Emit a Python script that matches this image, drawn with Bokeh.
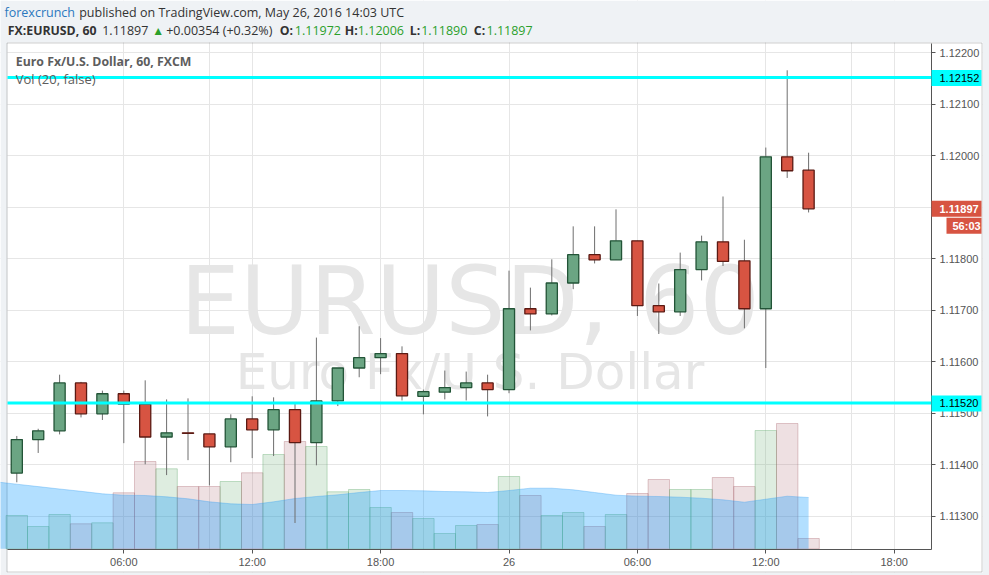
from bokeh.plotting import figure
from bokeh.models import (Range1d, FixedTicker, Label, BoxAnnotation, LinearAxis,
                          Grid, ColumnDataSource)
from bokeh.embed import file_html
from bokeh.resources import INLINE
from bokeh.core.properties import value

# ---------------- data (EURUSD 60 min, from 2016-05-25 00:00 UTC, x = hour) ----
hours = list(range(1, 39))
opens = [1.11384, 1.11449, 1.11466, 1.11559, 1.11499, 1.11538, 1.11518, 1.11454,
         1.11462, 1.11460, 1.11435, 1.11489, 1.11468, 1.11507, 1.11443, 1.11524,
         1.11588, 1.11608, 1.11616, 1.11533, 1.11541, 1.11550, 1.11559, 1.11546,
         1.11703, 1.11693, 1.11753, 1.11808, 1.11798, 1.11835, 1.11709, 1.11697,
         1.11779, 1.11833, 1.11796, 1.11703, 1.11998, 1.11972]
highs = [1.11456, 1.11470, 1.11575, 1.11561, 1.11544, 1.11544, 1.11564, 1.11527,
         1.11529, 1.11460, 1.11498, 1.11533, 1.11531, 1.11518, 1.11647, 1.11588,
         1.11669, 1.11646, 1.11630, 1.11546, 1.11583, 1.11581, 1.11575, 1.11777,
         1.11744, 1.11799, 1.11863, 1.11863, 1.11896, 1.11835, 1.11752, 1.11812,
         1.11845, 1.11921, 1.11837, 1.12016, 1.12166, 1.12006]
lows = [1.11366, 1.11423, 1.11459, 1.11492, 1.11487, 1.11442, 1.11401, 1.11380,
        1.11409, 1.11360, 1.11405, 1.11413, 1.11417, 1.11287, 1.11399, 1.11514,
        1.11570, 1.11576, 1.11525, 1.11498, 1.11527, 1.11525, 1.11494, 1.11539,
        1.11661, 1.11690, 1.11741, 1.11791, 1.11798, 1.11689, 1.11654, 1.11689,
        1.11758, 1.11786, 1.11665, 1.11588, 1.11957, 1.11890]
closes = [1.11449, 1.11466, 1.11559, 1.11499, 1.11538, 1.11518, 1.11454, 1.11462,
          1.11461, 1.11435, 1.11489, 1.11468, 1.11507, 1.11443, 1.11524, 1.11588,
          1.11608, 1.11616, 1.11534, 1.11542, 1.11550, 1.11559, 1.11546, 1.11703,
          1.11693, 1.11753, 1.11808, 1.11798, 1.11835, 1.11709, 1.11697, 1.11779,
          1.11833, 1.11795, 1.11703, 1.11998, 1.11971, 1.11897]
volume = [333, 223, 343, 250, 260, 560, 873, 800, 623, 623, 673, 760, 943, 1073,
          1023, 570, 593, 413, 363, 303, 153, 233, 243, 723, 533, 333, 363, 223,
          343, 553, 693, 593, 593, 713, 623, 1183, 1253, 103]
ma_hours = list(range(0, 39))
vol_ma = [670, 646, 622, 598, 575, 550, 536, 533, 520, 500, 470, 450, 443, 470,
          503, 523, 540, 563, 583, 583, 580, 573, 570, 563, 583, 606, 606, 590,
          563, 536, 526, 523, 516, 506, 490, 466, 496, 526, 513]
levels = [1.12152, 1.11520]
level_labels = ["1.12152", "1.11520"]
last_price = 1.11897
last_label = "1.11897"
countdown = "56:03"
price_ticks = [1.113, 1.114, 1.115, 1.116, 1.117, 1.118, 1.119, 1.120, 1.121, 1.122]
price_tick_labels = ["1.11300", "1.11400", "1.11500", "1.11600", "1.11700",
                     "1.11800", "1.11900", "1.12000", "1.12100", "1.12200"]
time_ticks = [6, 12, 18, 24, 30, 36, 42]
time_tick_labels = ["06:00", "12:00", "18:00", "26", "06:00", "12:00", "18:00"]

header1 = [("forexcrunch", "#2b78be"),
           ("published on TradingView.com, May 26, 2016 14:03 UTC", "#333333")]
header2 = [("FX:EURUSD, 60", "bold", "#333333"), ("1.11897", "normal", "#333333"),
           ("\u25b2", "normal", "#2ba02b"), ("+0.00354 (+0.32%)", "normal", "#333333"),
           ("O:", "bold", "#333333"), ("1.11972", "normal", "#2ba02b"),
           ("H:", "bold", "#333333"), ("1.12006", "normal", "#2ba02b"),
           ("L:", "bold", "#333333"), ("1.11890", "normal", "#2ba02b"),
           ("C:", "bold", "#333333"), ("1.11897", "normal", "#2ba02b")]
symbol_title = "Euro Fx/U.S. Dollar, 60, FXCM"
vol_title = "Vol (20, false)"
watermark1 = "EURUSD, 60"
watermark2 = "Euro Fx/U.S. Dollar"

# ---------------- layout (pixel geometry of the canvas) ----------------
W, H = 989, 575
PX_PER_HOUR = 21.4
PX_PER_PRICE = 51500.0
X0 = 6 - 123.3 / PX_PER_HOUR           # hour at canvas x = 0
YT = 1.122 + 52.3 / PX_PER_PRICE       # price at canvas y = 0
VOL_PER_PX = 10.0
VOL_BASE_Y = 548.3


def fx(px):
    return X0 + px / PX_PER_HOUR


def fy(py):
    return YT - py / PX_PER_PRICE


BOX_L, BOX_T, BOX_R, BOX_B = 7, 42, 982, 572      # outer chart box
PL, PT, PR, PB = 7, 43, 931, 549                  # price pane
BG = "#eff2f5"

p = figure(width=W, height=H, x_range=Range1d(fx(0), fx(W)),
           y_range=Range1d(fy(H), fy(0)), x_axis_location=None,
           y_axis_location=None, toolbar_location=None, output_backend="svg",
           min_border=0, title=None, background_fill_color="white",
           border_fill_color=BG, outline_line_color=None)
p.extra_y_ranges = {"vol": Range1d((VOL_BASE_Y - H) * VOL_PER_PX,
                                   VOL_BASE_Y * VOL_PER_PX)}

xt = FixedTicker(ticks=time_ticks)
yt = FixedTicker(ticks=price_ticks)
p.add_layout(Grid(dimension=0, ticker=xt, grid_line_color="#e6e6e6"))
p.add_layout(Grid(dimension=1, ticker=yt, grid_line_color="#e6e6e6"))

# cover everything outside the price pane
covers = [
    (0, W, 0, BOX_T, BG), (0, BOX_L, 0, H, BG), (BOX_R, W, 0, H, BG),
    (0, W, BOX_B, H, BG), (PR, BOX_R, BOX_T, BOX_B, "white"),
    (BOX_L, PR, PB, BOX_B, "white"),
]
for l, r, t, b, c in covers:
    p.add_layout(BoxAnnotation(left=fx(l), right=fx(r), top=fy(t), bottom=fy(b),
                               fill_color=c, fill_alpha=1, line_color=None,
                               level="underlay"))
p.add_layout(BoxAnnotation(left=fx(BOX_L - 0.5), right=fx(BOX_R - 0.5),
                           top=fy(BOX_T + 0.5), bottom=fy(BOX_B - 0.5),
                           fill_alpha=0, line_color="#5d5d5d", line_width=1,
                           level="underlay"))

# axes at fixed positions
yax = LinearAxis(ticker=yt, fixed_location=fx(PR), bounds=(fy(PB), fy(PT)),
                 major_label_overrides=dict(zip(price_ticks, price_tick_labels)))
xax = LinearAxis(ticker=xt, fixed_location=fy(PB), bounds=(fx(PL), fx(PR)),
                 major_label_overrides=dict(zip(time_ticks, time_tick_labels)))
for ax in (xax, yax):
    ax.axis_line_color = "#555555"
    ax.major_tick_line_color = "#555555"
    ax.minor_tick_line_color = None
    ax.major_tick_in = 0
    ax.major_tick_out = 4
    ax.major_label_text_font = "Liberation Sans"
    ax.major_label_text_font_size = "11px"
    ax.major_label_text_color = "#555555"
xax.major_label_standoff = 2
yax.major_label_standoff = 4
p.add_layout(yax, "right")
p.add_layout(xax, "below")

# watermark
xc = fx((PL + PR) / 2 + 0.5)
p.text(x=[xc], y=[fy(300)], text=[watermark1], text_font=value("DejaVu Sans"),
       text_font_size="95px", text_color="#e6e6e6", text_align="center",
       text_baseline="alphabetic")
p.text(x=[xc], y=[fy(371.7)], text=[watermark2], text_font=value("DejaVu Sans"),
       text_font_size="50px", text_color="#e6e6e6", text_align="center",
       text_baseline="alphabetic")

inc = [c >= o for o, c in zip(opens, closes)]
src = ColumnDataSource(dict(
    x=hours, o=opens, h=highs, l=lows, c=closes,
    top=[max(o, c) for o, c in zip(opens, closes)],
    bottom=[min(o, c) for o, c in zip(opens, closes)],
    bf=["#6ba583" if u else "#d75442" for u in inc],
    bl=["#225437" if u else "#5b1a13" for u in inc],
    vf=["#5aa564" if u else "#aa646e" for u in inc],
    vol=volume))

# volume
p.vbar(x="x", top="vol", bottom=0, width=1.0, fill_color="vf", fill_alpha=0.2,
       line_color="vf", line_alpha=0.35, line_width=1, y_range_name="vol",
       source=src)
p.varea(x=ma_hours, y1=[0] * len(vol_ma), y2=vol_ma, fill_color="#0096ff",
        fill_alpha=0.3, y_range_name="vol")
p.line(x=ma_hours, y=vol_ma, line_color="#3aa0f0", line_alpha=0.35, line_width=1,
       y_range_name="vol")

# candles
p.segment(x0="x", y0="h", x1="x", y1="l", line_color="#6e6e6e", line_width=1,
          source=src)
p.vbar(x="x", top="top", bottom="bottom", width=0.52, fill_color="bf",
       line_color="bl", line_width=1.3, source=src)

# horizontal levels across the price pane
p.segment(x0=[fx(PL)] * len(levels), x1=[fx(PR)] * len(levels), y0=levels,
          y1=levels, line_color="#00ffff", line_width=3)

# titles inside chart
p.add_layout(Label(x=fx(15.3), y=fy(61), text=symbol_title, text_font="Open Sans",
                   text_font_size="12.3px", text_font_style="bold",
                   text_color="#5d5d5d", text_baseline="middle"))
p.add_layout(Label(x=fx(15.3), y=fy(78), text=vol_title, text_font="Open Sans",
                   text_font_size="13px", text_color="#5d5d5d",
                   text_baseline="middle"))

# header
h1x = [4, 78.7]
for (t, col), x in zip(header1, h1x):
    p.add_layout(Label(x=fx(x), y=fy(12), text=t, text_font="Open Sans",
                       text_font_size="12.5px", text_color=col,
                       text_baseline="middle"))
h2x = [7.3, 101.7, 151.7, 165.7, 279.3, 294.3, 344.3, 357.3, 409.3, 420.7, 473.3, 486]
for (t, st, col), x in zip(header2, h2x):
    size = "12px" if t == "\u25b2" else ("12.3px" if st == "bold" else "12.5px")
    p.add_layout(Label(x=fx(x), y=fy(30), text=t, text_font="Open Sans",
                       text_font_size=size, text_font_style=st, text_color=col,
                       text_baseline="middle"))

# price-axis markers
for lv, lt in zip(levels, level_labels):
    yc = (YT - lv) * PX_PER_PRICE
    p.add_layout(BoxAnnotation(left=fx(PR), right=fx(BOX_R - 1), top=fy(yc - 7.5),
                               bottom=fy(yc + 8.5), fill_color="#00ffff",
                               fill_alpha=1, line_color=None))
    p.add_layout(Label(x=fx(939), y=lv, text=lt, text_font="Liberation Sans",
                       text_font_size="11px", text_color="#000000",
                       text_baseline="middle"))
yc = (YT - last_price) * PX_PER_PRICE
p.add_layout(BoxAnnotation(left=fx(PR), right=fx(BOX_R - 1), top=fy(yc - 8),
                           bottom=fy(yc + 8), fill_color="#d75442", fill_alpha=1,
                           line_color=None))
p.add_layout(BoxAnnotation(left=fx(946), right=fx(BOX_R - 1), top=fy(yc + 9),
                           bottom=fy(yc + 25), fill_color="#d75442", fill_alpha=1,
                           line_color=None))
p.add_layout(Label(x=fx(939), y=last_price, text=last_label,
                   text_font="Liberation Sans", text_font_size="11px",
                   text_font_style="bold", text_color="white",
                   text_baseline="middle"))
p.add_layout(Label(x=fx(952), y=fy(yc + 17), text=countdown,
                   text_font="Liberation Sans", text_font_size="11px",
                   text_font_style="bold", text_color="white",
                   text_baseline="middle"))

open("out.html", "w").write(file_html(p, INLINE))
